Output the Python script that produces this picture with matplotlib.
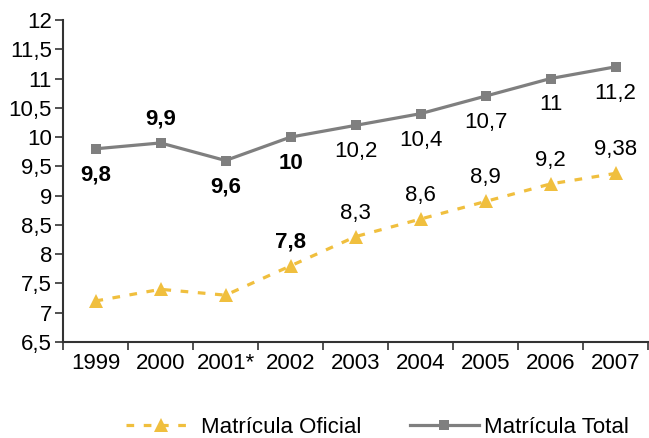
import numpy as np
import matplotlib
matplotlib.use("Agg")
import matplotlib.pyplot as plt
from matplotlib.ticker import FixedLocator

years = ["1999", "2000", "2001*", "2002", "2003", "2004", "2005", "2006", "2007"]
oficial = [7.2, 7.4, 7.3, 7.8, 8.3, 8.6, 8.9, 9.2, 9.38]
total = [9.8, 9.9, 9.6, 10.0, 10.2, 10.4, 10.7, 11.0, 11.2]
oficial_labels = ["", "", "", "7,8", "8,3", "8,6", "8,9", "9,2", "9,38"]
total_labels = ["9,8", "9,9", "9,6", "10", "10,2", "10,4", "10,7", "11", "11,2"]
# 9,9 sits above its point, the rest below
total_above = [False, True, False, False, False, False, False, False, False]

plt.rcParams['font.family'] = ['Liberation Sans', 'DejaVu Sans']

yellow = "#F0BF3E"
gray = "#7F7F7F"
axcol = "#333333"

fig = plt.figure(figsize=(6.49, 4.38), dpi=100)
ax = fig.add_axes([63 / 649, 1 - 342 / 438, 585 / 649, 322 / 438])

x = np.arange(len(years))
ax.plot(x, oficial, color=yellow, lw=2.3, ls=(0, (2.4, 3.0)), marker="^",
        markersize=10, markeredgewidth=0, label="Matrícula Oficial")
ax.plot(x, total, color=gray, lw=2.3, marker="s", markersize=7,
        markeredgewidth=0, label="Matrícula Total")

for i, (v, t) in enumerate(zip(total, total_labels)):
    dy = 17 if total_above[i] else -19
    w = "bold" if i < 4 else "normal"
    ax.annotate(t, (x[i], v), xytext=(0, dy), textcoords="offset points",
                ha="center", va="center", fontsize=16, color="black",
                fontweight=w)
for i, (v, t) in enumerate(zip(oficial, oficial_labels)):
    if t:
        w = "bold" if i < 4 else "normal"
        ax.annotate(t, (x[i], v), xytext=(0, 17), textcoords="offset points",
                    ha="center", va="center", fontsize=16, color="black",
                    fontweight=w)

ax.set_xlim(-0.5, len(years) - 0.5)
ax.set_ylim(6.5, 12)
yt = np.arange(6.5, 12.01, 0.5)
ax.set_yticks(yt)
ax.set_yticklabels([("%g" % v).replace(".", ",") for v in yt])
ax.set_xticks(x)
ax.set_xticklabels(years)
ax.xaxis.set_minor_locator(FixedLocator(np.arange(-0.5, len(years), 1)))
ax.tick_params(axis="x", which="major", length=0, pad=8, labelsize=16)
ax.tick_params(axis="x", which="minor", length=6, width=1.2, color=axcol)
ax.tick_params(axis="y", length=6, width=1.2, color=axcol, labelsize=16, pad=2)

for s in ["top", "right"]:
    ax.spines[s].set_visible(False)
for s in ["left", "bottom"]:
    ax.spines[s].set_color(axcol)
    ax.spines[s].set_linewidth(1.5)

fig.legend(loc="center", bbox_to_anchor=(0.582, 0.025), ncol=2,
           frameon=False, fontsize=16, handlelength=3.1, handletextpad=0.25,
           columnspacing=2.2)

fig.savefig("out.png", dpi=100)
